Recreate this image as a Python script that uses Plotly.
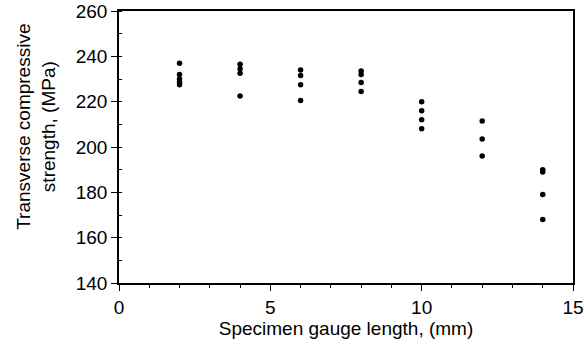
import plotly.graph_objects as go

gauge_length = [2]*5 + [4]*4 + [6]*4 + [8]*4 + [10]*4 + [12]*3 + [14]*4
strength = [237, 232, 230, 228.5, 227.5,
            236.5, 234.5, 232.5, 222.5,
            234, 231.5, 227.5, 220.5,
            233.5, 232, 228.5, 224.5,
            220, 216, 212, 208,
            211.5, 203.5, 196,
            190, 189, 179, 168]
x_ticks = [0, 5, 10, 15]

fig = go.Figure(go.Scatter(x=gauge_length, y=strength, mode="markers",
                           marker=dict(color="black", size=5.5)))

fam = "Liberation Sans, Arial, sans-serif"
tickf = dict(family=fam, size=19, color="black")
titlef = dict(family=fam, size=19, color="black")
fig.update_layout(
    width=584, height=354,
    margin=dict(l=119, r=11, t=11, b=71, autoexpand=False),
    paper_bgcolor="white", plot_bgcolor="white",
    showlegend=False, font=dict(family=fam, size=19, color="black"),
)
fig.update_xaxes(range=[0, 15], tickvals=x_ticks, ticks="outside", ticklen=6,
                 tickcolor="black", showline=True, linecolor="black", linewidth=1.5,
                 mirror=True, showgrid=False, zeroline=False, ticklabeloverflow="allow",
                 automargin=False, tickfont=tickf,
                 minor=dict(dtick=1, ticks="outside", ticklen=3, tickcolor="black", showgrid=False),
                 title=dict(text="Specimen gauge length, (mm)", standoff=4, font=titlef))
fig.update_yaxes(range=[140, 260], dtick=20, ticks="outside", ticklen=6,
                 tickcolor="black", showline=True, linecolor="black", linewidth=1.5,
                 mirror=True, showgrid=False, zeroline=False, automargin=False,
                 tickfont=tickf,
                 minor=dict(dtick=10, ticks="inside", ticklen=3, tickcolor="black", showgrid=False))
fig.add_annotation(text="Transverse compressive<br>strength, (MPa)", textangle=-90,
                   xref="paper", yref="paper", x=-0.183, y=0.574,
                   xanchor="center", yanchor="middle", showarrow=False, font=titlef)

fig.write_html("out.html")
